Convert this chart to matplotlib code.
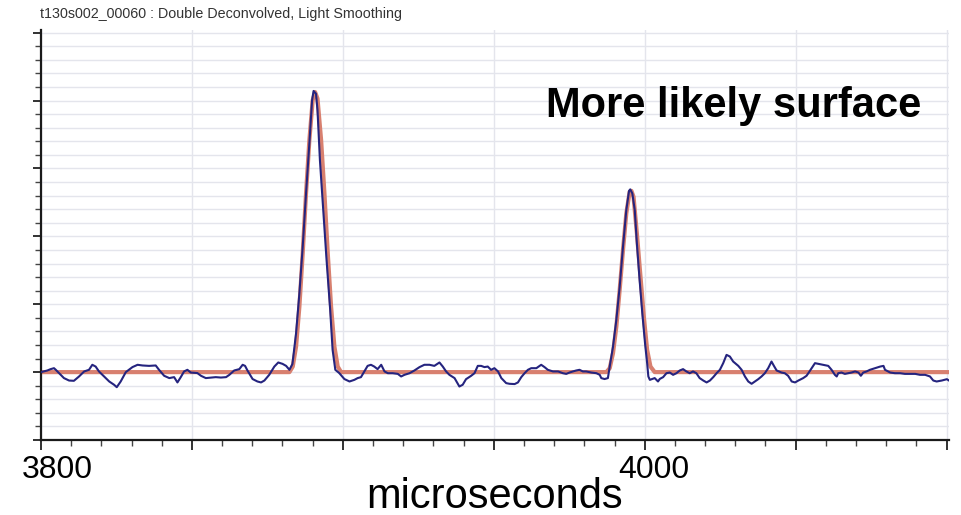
#!/usr/bin/env python3
"""Double-deconvolved echo trace with a two-peak fit, light smoothing."""

import matplotlib

matplotlib.use("Agg")
import matplotlib.pyplot as plt
from matplotlib.ticker import MultipleLocator
from matplotlib.transforms import ScaledTranslation

plt.rcParams["font.family"] = ["Liberation Sans", "DejaVu Sans"]

TRACE_BLUE = "#25247f"
FIT_RED = "#d8806f"
GRID = "#e4e5ec"

# Measured (smoothed) trace, microseconds vs amplitude in grid units.
trace_us = [
    3800.0, 3802.1, 3803.2, 3804.3, 3804.9, 3806.0, 3807.6, 3809.3, 3810.9, 3812.6,
    3814.3, 3815.9, 3817.0, 3818.1, 3819.2, 3820.9, 3822.6, 3824.2, 3825.1, 3826.4,
    3828.1, 3830.3, 3832.0, 3833.6, 3835.8, 3838.0, 3839.1, 3840.8, 3842.5, 3844.1,
    3845.2, 3846.3, 3847.4, 3848.5, 3849.6,
    3851.8, 3853.0, 3854.6, 3856.3, 3857.9, 3859.6, 3861.3, 3862.4, 3864.0, 3865.7,
    3866.8, 3867.6, 3868.4, 3870.1, 3871.7, 3872.9, 3874.0, 3875.6, 3877.3, 3878.6,
    3880.0, 3881.2, 3882.3, 3883.3,
    3884.5, 3885.6, 3886.7, 3887.8, 3888.9, 3889.8, 3890.3, 3891.1, 3891.6, 3892.4,
    3893.5, 3894.6, 3895.8, 3896.6, 3897.5, 3898.8, 3900.5, 3902.2,
    3903.8, 3904.9, 3906.0, 3907.1, 3908.2, 3909.3, 3910.4, 3911.5, 3912.7, 3913.8,
    3914.9, 3916.5, 3918.2, 3919.3, 3920.4, 3922.1, 3923.7, 3925.4, 3927.0, 3928.7,
    3930.3, 3932.0, 3933.1, 3934.2, 3935.3, 3937.0, 3938.6, 3939.7, 3940.8, 3942.5,
    3943.6, 3944.7, 3945.8, 3946.9, 3948.0, 3949.1, 3950.2, 3951.4, 3952.5, 3954.1,
    3955.2, 3956.9, 3958.0, 3959.1, 3960.2, 3961.3, 3962.4, 3964.1, 3965.7, 3966.8,
    3967.9, 3969.6, 3971.3, 3972.9, 3974.0, 3975.1, 3976.2, 3977.3, 3978.4, 3979.5,
    3980.6, 3982.3, 3984.0, 3985.1, 3985.6, 3986.7, 3987.8,
    3988.4, 3989.5, 3990.6, 3991.7, 3992.8, 3993.9, 3994.8, 3995.2, 3995.9, 3996.7,
    3997.4, 3998.3, 3999.2, 4000.1, 4000.8, 4001.2, 4001.7, 4003.3, 4004.4,
    4005.0, 4006.1, 4007.2, 4008.3, 4009.4, 4010.5, 4011.6, 4012.7, 4013.8, 4014.9,
    4016.0, 4017.1, 4018.2, 4019.4, 4020.5, 4021.6, 4022.7, 4023.8, 4024.9, 4026.0,
    4027.1, 4028.2, 4029.3, 4031.0, 4032.1, 4033.2, 4034.3, 4035.4, 4036.5, 4037.6,
    4038.7, 4039.8, 4040.9, 4042.0, 4042.8, 4043.7, 4045.3, 4046.4, 4047.5, 4048.7,
    4049.8, 4050.9, 4052.5, 4053.6,
    4054.2, 4055.3, 4056.4, 4057.5, 4059.2, 4060.8, 4061.9, 4063.0, 4063.6, 4064.1,
    4065.2, 4066.3, 4067.4, 4068.5, 4069.7, 4070.8, 4071.6, 4072.4, 4073.5, 4074.6,
    4076.3, 4078.0, 4079.1, 4079.6, 4081.3, 4082.9, 4084.6, 4086.2, 4087.9, 4089.6,
    4091.2, 4092.9, 4094.5, 4095.6, 4096.7, 4098.4, 4100.1, 4100.8,
]
trace_amp = [
    0.00, 0.12, 0.22, 0.29, 0.17, -0.08, -0.44, -0.62, -0.64, -0.32,
    0.05, 0.17, 0.54, 0.41, 0.05, -0.32, -0.69, -0.93, -1.11, -0.69,
    0.00, 0.37, 0.54, 0.49, 0.46, 0.49, 0.17, -0.27, -0.44, -0.37,
    -0.76, -0.37, 0.05, 0.17, -0.03,
    -0.07, -0.27, -0.44, -0.40, -0.37, -0.40, -0.37, -0.20, 0.12, 0.22,
    0.54, 0.46, 0.12, -0.51, -0.69, -0.76, -0.62, -0.20, 0.41, 0.71,
    0.61, 0.46, 0.17, 0.60,
    2.87, 5.81, 9.24, 13.16, 16.84, 20.02, 20.71, 20.51, 19.29, 15.61,
    11.93, 8.26, 4.58, 1.64, 0.17, -0.07, -0.51, -0.69,
    -0.57, -0.44, -0.37, 0.05, 0.46, 0.54, 0.41, 0.22, 0.54, 0.05,
    -0.08, -0.08, -0.13, -0.32, -0.20, -0.08, 0.12, 0.37, 0.54, 0.54,
    0.46, 0.71, 0.41, 0.05, -0.20, -0.44, -1.06, -0.93, -0.52, -0.27,
    -0.08, 0.46, 0.46, 0.37, 0.41, 0.17, 0.29, 0.05, -0.44, -0.81,
    -0.86, -0.88, -0.76, -0.37, -0.08, 0.17, 0.29, 0.29, 0.54, 0.37,
    0.17, 0.05, 0.05, -0.08, -0.13, -0.03, 0.05, 0.12, 0.17, 0.05,
    0.05, -0.03, -0.08, -0.20, -0.44, -0.51, -0.44,
    0.41, 1.88, 3.85, 6.29, 9.24, 11.93, 13.35, 13.46, 13.16, 11.93,
    9.49, 6.79, 4.34, 2.13, 0.66, -0.32, -0.57, -0.44, -0.69,
    -0.50, -0.37, -0.08, -0.03, -0.20, -0.08, 0.12, 0.22, 0.05, -0.08,
    0.05, -0.08, -0.44, -0.62, -0.76, -0.62, -0.37, -0.08, 0.17, 0.66,
    1.27, 1.15, 0.78, 0.46, 0.17, -0.32, -0.69, -0.86, -0.69, -0.52,
    -0.32, -0.08, 0.29, 0.78, 0.46, 0.12, -0.03, -0.08, -0.27, -0.69,
    -0.76, -0.62, -0.44, -0.27,
    -0.08, 0.29, 0.66, 0.61, 0.54, 0.46, 0.17, -0.20, -0.32, -0.08,
    -0.03, -0.13, -0.08, -0.03, 0.05, -0.03, -0.27, -0.03, 0.05, 0.17,
    0.29, 0.41, 0.46, 0.17, -0.03, -0.08, -0.08, -0.13, -0.13, -0.13,
    -0.20, -0.20, -0.32, -0.62, -0.69, -0.62, -0.52, -0.62,
]

# Two-peak fit (flat baseline with the two echoes).
fit_us = [
    3800.0, 3882.3, 3883.4, 3884.5, 3885.6, 3886.7, 3887.8, 3888.9, 3890.0, 3890.8,
    3891.6, 3892.8, 3893.9, 3895.0, 3896.1, 3897.2, 3898.3, 3899.4,
    3987.3, 3988.4, 3989.5, 3990.6, 3991.7, 3992.8, 3993.9, 3995.0, 3995.6, 3996.3,
    3997.4, 3998.6, 3999.7, 4000.8, 4001.9, 4003.3, 4100.8,
]
fit_amp = [
    0.00, 0.00, 0.41, 1.88, 4.82, 8.75, 13.16, 17.08, 20.02, 20.63,
    20.15, 17.08, 13.16, 8.75, 4.82, 1.88, 0.41, 0.00,
    0.00, 0.29, 1.40, 3.35, 6.05, 8.99, 11.69, 13.28, 13.35, 12.91,
    10.22, 7.03, 4.09, 1.64, 0.41, 0.00, 0.00,
]

# labelled ticks and the pixel nudge each label gets to the right
x_labelled = [3800, 4000]
x_label_nudge = [16, 9]
x_range = (3800, 4100.8)
y_range = (-5, 25.2)

TITLE = "t130s002_00060 : Double Deconvolved, Light Smoothing"


def main() -> None:
    fig = plt.figure(figsize=(9.61, 5.15), dpi=100)
    ax = fig.add_axes([41 / 961, 75 / 515, 908 / 961, 410 / 515])

    ax.plot(fit_us, fit_amp, color=FIT_RED, lw=3.0, solid_capstyle="butt", zorder=2)
    ax.plot(trace_us, trace_amp, color=TRACE_BLUE, lw=1.5, zorder=3)

    ax.set_xlim(*x_range)
    ax.set_ylim(*y_range)

    ax.xaxis.set_major_locator(MultipleLocator(50))
    ax.xaxis.set_minor_locator(MultipleLocator(10))
    ax.yaxis.set_major_locator(MultipleLocator(5))
    ax.yaxis.set_minor_locator(MultipleLocator(1))

    # only a couple of the major ticks carry a number
    ticks = ax.get_xticks()
    ax.set_xticklabels([f"{t:.0f}" if t in x_labelled else "" for t in ticks])
    ax.set_yticklabels([])
    ax.tick_params(axis="x", which="major", length=7, width=1.3, labelsize=23, pad=4,
                   color="#222222")
    ax.tick_params(axis="x", which="minor", length=4, width=1.0, color="#444444")
    ax.tick_params(axis="y", which="major", length=6, width=1.3, color="#222222")
    ax.tick_params(axis="y", which="minor", length=4, width=1.0, color="#444444")
    for t, lab in zip(ticks, ax.get_xticklabels()):
        if t in x_labelled:
            dx = x_label_nudge[x_labelled.index(t)]
            lab.set_transform(lab.get_transform()
                              + ScaledTranslation(dx / 100, 0, fig.dpi_scale_trans))

    ax.grid(True, which="both", axis="y", color=GRID, lw=1.0)
    ax.grid(True, which="major", axis="x", color=GRID, lw=1.0)
    ax.set_axisbelow(True)

    for side in ("top", "right"):
        ax.spines[side].set_visible(False)
    for side in ("left", "bottom"):
        ax.spines[side].set_linewidth(1.6)
        ax.spines[side].set_color("#1a1a1a")

    ax.set_xlabel("microseconds", fontsize=30, labelpad=-6)

    fig.text(40 / 961, 1 - 14 / 515, TITLE, fontsize=10.3, color="#333333", va="center")
    fig.text(546 / 961, 1 - 106 / 515, "More likely surface", fontsize=30,
             fontweight="bold", color="black", va="center")

    fig.savefig("out.png", dpi=100)
    plt.close(fig)


if __name__ == "__main__":
    main()
